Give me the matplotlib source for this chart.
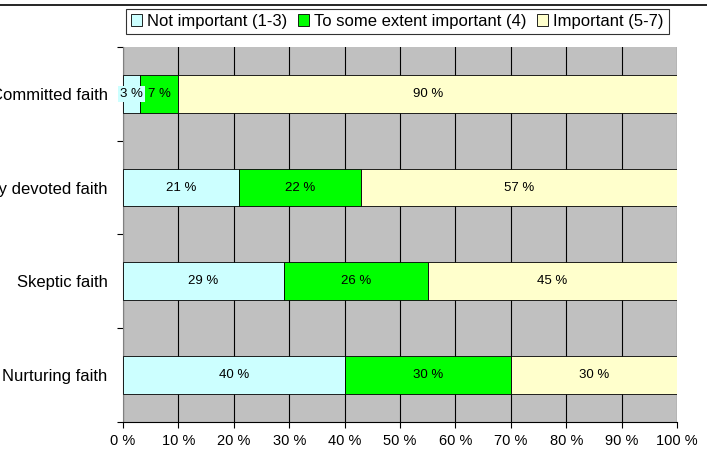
import matplotlib.pyplot as plt
from matplotlib.lines import Line2D
import numpy as np

plt.rcParams['font.family'] = ['Liberation Sans', 'DejaVu Sans']

categories = ['Committed faith', 'Religiously devoted faith', 'Skeptic faith', 'Nurturing faith']
not_important = [3, 21, 29, 40]
some_extent = [7, 22, 26, 30]
important = [90, 57, 45, 30]
series_names = ['Not important (1-3)', 'To some extent important (4)', 'Important (5-7)']
colors = ['#CCFFFF', '#00FF00', '#FFFFCC']

fig = plt.figure(figsize=(7.07, 4.65), dpi=100)
ax = fig.add_axes([0.174, 0.093, 0.7836, 0.806])
ax.set_facecolor('#C0C0C0')

y = np.arange(len(categories))[::-1]
left = np.zeros(len(categories))
for vals, name, col in zip([not_important, some_extent, important], series_names, colors):
    vals = np.array(vals)
    ax.barh(y, vals, left=left, height=0.4, color=col, edgecolor='black',
            linewidth=0.6, label=name, zorder=3)
    for yi, l, v in zip(y, left, vals):
        kw = {}
        if v < 5:
            kw['bbox'] = dict(facecolor=col, edgecolor='none', pad=1.5)
        ax.text(l + v / 2, yi, f'{v} %', ha='center', va='center',
                fontsize=9.5, zorder=5, **kw)
    left += vals

ax.set_xlim(0, 100)
ax.set_ylim(-0.5, len(categories) - 0.5)
ax.set_xticks(np.arange(0, 101, 10))
ax.set_xticklabels([f'{v} %' for v in range(0, 101, 10)], fontsize=10.5)
ax.xaxis.grid(True, color='black', linewidth=0.8, zorder=1)
ax.set_axisbelow(True)

ax.set_yticks(np.arange(-0.5, len(categories), 1))
ax.set_yticklabels([])
ax.set_yticks(y, minor=True)
ax.set_yticklabels(categories, minor=True, fontsize=12)
ax.tick_params(axis='y', which='minor', length=0, pad=11)
ax.tick_params(axis='y', which='major', length=4, width=0.8)
ax.tick_params(axis='x', length=4, width=0.8, pad=5)

for s in ['top', 'right']:
    ax.spines[s].set_visible(False)
ax.spines['left'].set_color('#808080')
ax.spines['bottom'].set_color('black')

leg = ax.legend(loc='lower center', bbox_to_anchor=(0.495, 1.035), ncol=3,
                fontsize=12, frameon=True, fancybox=False, edgecolor='black',
                handlelength=0.7, handleheight=0.7, handletextpad=0.3,
                columnspacing=0.6, borderpad=0.3, borderaxespad=0)
leg.get_frame().set_linewidth(0.8)

fig.add_artist(Line2D([0, 1], [0.989, 0.989], color='black', linewidth=1.2))

fig.savefig('out.png', dpi=100)
